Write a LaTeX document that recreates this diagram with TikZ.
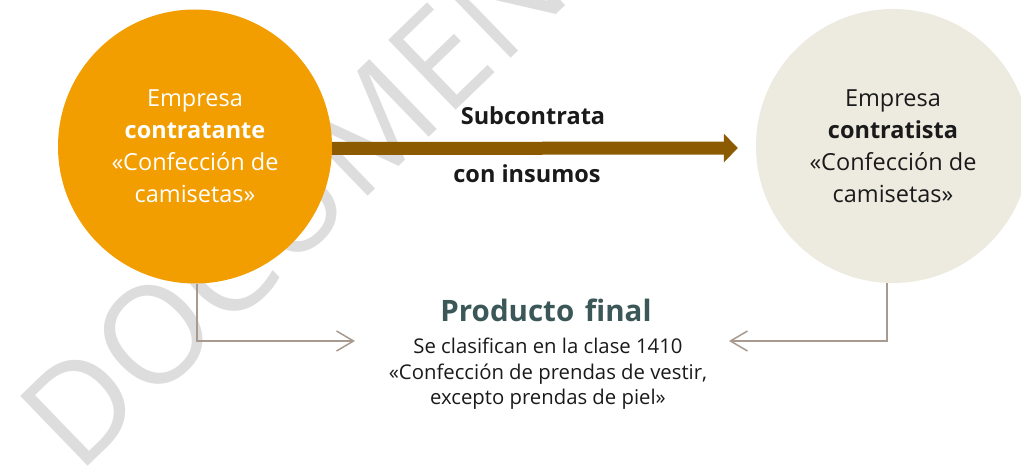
\documentclass[tikz,border=0pt]{standalone}
\usepackage{fontspec}
\setmainfont{Open Sans}
\usetikzlibrary{arrows.meta,shapes.geometric}
\definecolor{orangeC}{RGB}{242,157,0}
\definecolor{beigeC}{RGB}{237,234,224}
\definecolor{brownC}{RGB}{140,90,0}
\definecolor{lineC}{RGB}{168,154,142}
\definecolor{titleC}{RGB}{59,87,87}
\definecolor{wmC}{RGB}{221,221,221}
\definecolor{inkC}{RGB}{26,26,26}
\tikzset{
  bubble/.style={circle, inner sep=0pt, minimum size=274pt, align=center,
    font=\fontsize{23.5}{32}\selectfont},
  lbl/.style={inner sep=0pt, font=\bfseries\fontsize{23.5}{28}\selectfont, text=inkC},
  conn/.style={draw=lineC, line width=1.5pt, -{Straight Barb[length=17pt,width=20pt]}},
  bigarrow/.style={draw=brownC, line width=13pt, -{Triangle[length=14pt,width=28pt]}},
  wmark/.style={inner sep=0pt, text=wmC, font=\fontsize{136}{136}\selectfont}
}
\begin{document}
\begin{tikzpicture}[x=1pt,y=-1pt]
\useasboundingbox (0,0) rectangle (1021,473);
\fill[white] (0,0) rectangle (1021,473);
\begin{scope}
\clip (0,0) rectangle (1021,473);
\node[wmark, rotate=44, anchor=base west] (wm) at (78,476) {DOCUMENTO};
\end{scope}

\node[bubble, fill=orangeC, text=white] (left) at (195,146.5)
  {Empresa\\\textbf{contratante}\\«Confección de\\camisetas»};
\node[bubble, fill=beigeC, text=inkC] (right) at (893,146)
  {Empresa\\\textbf{contratista}\\«Confección de\\camisetas»};

\draw[bigarrow, shorten >=18pt] ([yshift=-2pt]left.east) -- ([yshift=-2pt]right.west);
\node[lbl, anchor=base] (sub) at (533,125) {Subcontrata};
\node[lbl, anchor=base] (ins) at (527,183) {con insumos};

\node[inner sep=0pt, anchor=base, text=titleC, font=\bfseries\fontsize{29.5}{32}\selectfont] (title) at (546,322) {Producto\hspace{3pt} final};
\node[inner sep=0pt, anchor=north, align=center, text=inkC, font=\fontsize{20.3}{25.5}\selectfont] (desc) at (548,338)
  {Se clasifican en la clase 1410\\«Confección de prendas de vestir,\\excepto prendas de piel»};

\coordinate (pL) at (355,341);
\coordinate (pR) at (729,341);
\draw[conn] ([xshift=2pt]left.south) |- (pL);
\draw[conn] ([xshift=-6pt]right.south) |- (pR);
\end{tikzpicture}
\end{document}
